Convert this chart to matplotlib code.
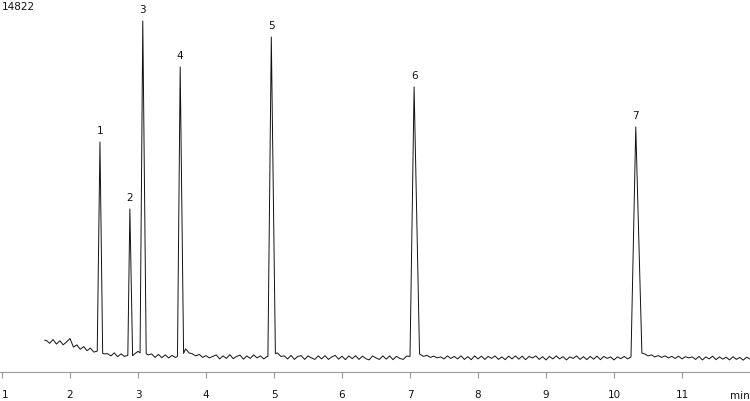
import numpy as np
import matplotlib
matplotlib.use("Agg")
import matplotlib.pyplot as plt

# ---- data ----
y_max_label = "14822"
y_max = 14822

peak_labels = ["1", "2", "3", "4", "5", "6", "7"]
peak_apex_t = [2.44, 2.88, 3.07, 3.62, 4.96, 7.06, 10.32]
peak_apex_v = [9140, 6480, 13950, 12120, 13310, 11330, 9740]
peak_start_t = [2.40, 2.85, 3.03, 3.58, 4.91, 7.00, 10.25]
peak_end_t = [2.48, 2.92, 3.12, 3.67, 5.02, 7.14, 10.41]

trace_start = 1.63
baseline_step = 0.05
baseline_first_t = 1.65
baseline_values = [
    1260, 1140, 1290, 1110, 1240, 1080, 1200, 1330, 990, 1080,
    900, 1010, 850, 950, 790, 830, 760, 720, 730, 640,
    760, 610, 720, 620, 660, 600, 720, 820, 720, 760,
    680, 720, 580, 700, 570, 680, 560, 660, 580, 640,
    620, 920, 760, 720, 640, 700, 580, 650, 560, 620,
    680, 520, 640, 540, 690, 530, 620, 670, 510, 640,
    540, 680, 560, 640, 520, 620, 600, 700, 760, 620,
    640, 520, 660, 500, 620, 650, 500, 640, 560, 500,
    640, 520, 650, 500, 600, 660, 510, 630, 490, 640,
    530, 650, 500, 630, 530, 480, 640, 560, 500, 640,
    510, 640, 490, 620, 540, 500, 630, 620, 700, 760,
    700, 620, 660, 580, 630, 560, 600, 520, 640, 540,
    620, 520, 640, 500, 610, 490, 640, 520, 630, 500,
    620, 540, 640, 500, 600, 490, 630, 520, 640, 510,
    630, 490, 620, 560, 640, 500, 610, 480, 620, 520,
    640, 520, 610, 480, 600, 540, 640, 500, 610, 490,
    620, 510, 630, 490, 620, 540, 600, 480, 600, 530,
    620, 520, 600, 620, 660, 760, 720, 640, 680, 600,
    650, 580, 640, 560, 620, 540, 630, 520, 610, 560,
    600, 500, 620, 480, 600, 520, 630, 490, 600, 510,
    590, 480, 610, 500, 580, 470, 590, 510, 560, 500,
]
x_ticks = [1, 2, 3, 4, 5, 6, 7, 8, 9, 10, 11]
x_unit = "min"

# ---- build trace ----
bt = baseline_first_t + baseline_step * np.arange(len(baseline_values))
bv = np.array(baseline_values, dtype=float)
bt = np.concatenate([[trace_start], bt])
bv = np.concatenate([[bv[0]], bv])

t_all = np.unique(np.concatenate([bt, peak_start_t, peak_apex_t, peak_end_t]))
trace = np.interp(t_all, bt, bv)
for s, a, e, v in zip(peak_start_t, peak_apex_t, peak_end_t, peak_apex_v):
    h = v - np.interp(a, bt, bv)
    trace += np.interp(t_all, [s, a, e], [0, h, 0], left=0, right=0)

# ---- figure ----
fig = plt.figure(figsize=(7.5, 4.02), dpi=100)
ax = fig.add_axes([0, 29 / 402, 1, 373 / 402])
ax.plot(t_all, trace, color="#111111", lw=0.7)
ax.set_xlim(0.97, 12.0)
ax.set_ylim(0, y_max)

for lab, a, v in zip(peak_labels, peak_apex_t, peak_apex_v):
    ax.annotate(lab, (a, v), xytext=(0, 5), textcoords="offset points",
                ha="center", va="bottom", fontsize=7.5, color="#111111")

for side in ["top", "left", "right"]:
    ax.spines[side].set_visible(False)
ax.spines["bottom"].set_color("#999999")
ax.spines["bottom"].set_linewidth(0.8)
ax.set_yticks([])
ax.set_xticks(x_ticks)
ax.set_xticklabels([str(v) for v in x_ticks])
ax.tick_params(axis="x", direction="out", length=4, width=0.8, color="#999999",
               pad=8.5, labelsize=7.5, labelcolor="#111111")
for lbl in ax.get_xticklabels():
    if lbl.get_text() == "1":
        lbl.set_ha("left")

fig.text(0.003, 0.995, y_max_label, ha="left", va="top", fontsize=7.5, color="#111111")
fig.text(740 / 750, 6 / 402, x_unit, ha="center", va="center", fontsize=7.5, color="#111111")

fig.savefig("out.png", dpi=100)
